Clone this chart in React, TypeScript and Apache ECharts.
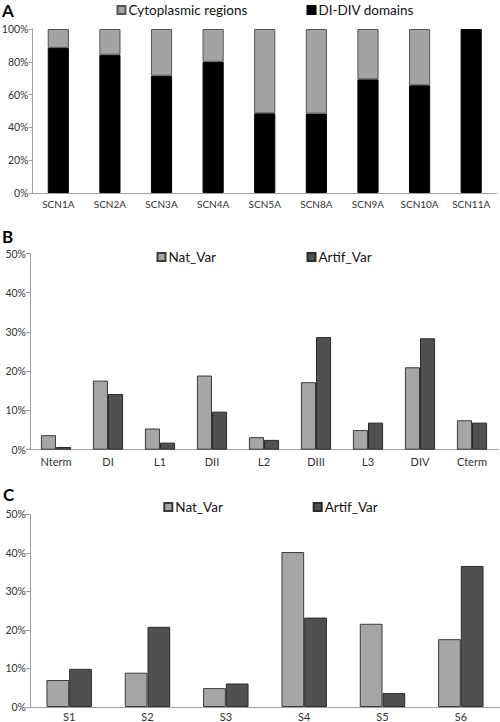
import React, { useEffect, useRef } from "react";
import * as echarts from "echarts";

const genes = ["SCN1A", "SCN2A", "SCN3A", "SCN4A", "SCN5A", "SCN8A", "SCN9A", "SCN10A", "SCN11A"];
const domainsPct = [88.5, 84.3, 71.5, 80, 48.6, 48.4, 69.3, 65.7, 100];
const cytoPct = [11.5, 15.7, 28.5, 20, 51.4, 51.6, 30.7, 34.3, 0];

const regions = ["Nterm", "DI", "L1", "DII", "L2", "DIII", "L3", "DIV", "Cterm"];
const regionNat = [3.7, 17.6, 5.4, 18.9, 3.2, 17.2, 5.0, 21.0, 7.5];
const regionArtif = [0.7, 14.2, 1.8, 9.7, 2.5, 28.7, 6.9, 28.4, 6.9];

const segments = ["S1", "S2", "S3", "S4", "S5", "S6"];
const segNat = [7.0, 8.9, 4.9, 40.2, 21.6, 17.6];
const segArtif = [9.9, 20.8, 6.1, 23.2, 3.6, 36.6];

const FONT = "Lato, 'Noto Sans', sans-serif";
const AXIS_COLOR = "#a0a0a0";
const LABEL_COLOR = "#333";

const NAT_STYLE = { color: "#a6a6a6", borderColor: "#3a3a3a", borderWidth: 1 };
const ARTIF_STYLE = { color: "#505050", borderColor: "#2a2a2a", borderWidth: 1 };

function yAxis(gridIndex: number, max: number, interval: number) {
  return {
    type: "value",
    gridIndex,
    min: 0,
    max,
    interval,
    axisLine: { show: true, lineStyle: { color: AXIS_COLOR, width: 1 } },
    axisTick: { show: true, length: 4, lineStyle: { color: AXIS_COLOR } },
    splitLine: { show: false },
    axisLabel: {
      formatter: "{value}%",
      color: LABEL_COLOR,
      fontFamily: FONT,
      fontSize: 10.5,
      margin: 4,
    },
  };
}

function xAxis(gridIndex: number, data: string[], fontSize: number, margin: number) {
  return {
    type: "category",
    gridIndex,
    data,
    axisLine: { show: true, lineStyle: { color: AXIS_COLOR, width: 1 } },
    axisTick: { show: false },
    axisLabel: {
      color: LABEL_COLOR,
      fontFamily: FONT,
      fontSize,
      margin,
      interval: 0,
    },
  };
}

function legend(name: string, left: number, top: number) {
  return {
    data: [name],
    left,
    top,
    padding: 0,
    itemWidth: 8,
    itemHeight: 8,
    itemGap: 0,
    icon: "rect",
    selectedMode: false,
    textStyle: { fontFamily: FONT, fontSize: 13.5, color: "#111", padding: [0, 0, 0, -2] },
  };
}

export default function App() {
  const ref = useRef<HTMLDivElement>(null);

  useEffect(() => {
    if (!ref.current) return;
    const chart = echarts.init(ref.current, undefined, { renderer: "svg" });
    const option: any = {
      animation: false,
      backgroundColor: "#ffffff",
      textStyle: { fontFamily: FONT },
      grid: [
        { left: 32.5, right: 3, top: 29, height: 164, outerBoundsMode: "none" },
        { left: 30, right: 2, top: 253.5, height: 196.2, outerBoundsMode: "none" },
        { left: 30, right: 0, top: 514.3, height: 192.7, outerBoundsMode: "none" },
      ],
      legend: [
        legend("Cytoplasmic regions", 116.5, 3),
        legend("DI-DIV domains", 306.5, 3),
        legend("Nat_Var", 156.5, 250),
        legend("Artif_Var", 306.5, 250),
        legend("Nat_Var", 163.3, 500),
        legend("Artif_Var", 312.7, 500),
      ],
      xAxis: [xAxis(0, genes, 10, 6), xAxis(1, regions, 11, 6), xAxis(2, segments, 11, 4)],
      yAxis: [yAxis(0, 100, 20), yAxis(1, 50, 10), yAxis(2, 50, 10)],
      graphic: [
        { type: "text", left: 2, top: 2, style: { text: "A", font: `bold 17px ${FONT}`, fill: "#000" } },
        { type: "text", left: 2, top: 228, style: { text: "B", font: `bold 17px ${FONT}`, fill: "#000" } },
        { type: "text", left: 3, top: 486, style: { text: "C", font: `bold 17px ${FONT}`, fill: "#000" } },
      ],
      series: [
        {
          name: "DI-DIV domains",
          type: "bar",
          stack: "a",
          xAxisIndex: 0,
          yAxisIndex: 0,
          barWidth: "41%",
          data: domainsPct,
          itemStyle: { color: "#000000", borderColor: "#000000", borderWidth: 1 },
        },
        {
          name: "Cytoplasmic regions",
          type: "bar",
          stack: "a",
          xAxisIndex: 0,
          yAxisIndex: 0,
          barWidth: "41%",
          data: cytoPct.map((v) => (v === 0 ? { value: v, itemStyle: { borderWidth: 0 } } : v)),
          itemStyle: { color: "#a3a3a3", borderColor: "#555555", borderWidth: 1 },
        },
        {
          name: "Nat_Var",
          type: "bar",
          xAxisIndex: 1,
          yAxisIndex: 1,
          barWidth: "29%",
          barGap: "0%",
          data: regionNat,
          itemStyle: NAT_STYLE,
        },
        {
          name: "Artif_Var",
          type: "bar",
          xAxisIndex: 1,
          yAxisIndex: 1,
          barWidth: "29%",
          barGap: "0%",
          data: regionArtif,
          itemStyle: ARTIF_STYLE,
        },
        {
          name: "Nat_Var",
          type: "bar",
          xAxisIndex: 2,
          yAxisIndex: 2,
          barWidth: "29%",
          barGap: "0%",
          data: segNat,
          itemStyle: NAT_STYLE,
        },
        {
          name: "Artif_Var",
          type: "bar",
          xAxisIndex: 2,
          yAxisIndex: 2,
          barWidth: "29%",
          barGap: "0%",
          data: segArtif,
          itemStyle: ARTIF_STYLE,
        },
      ],
    };
    chart.setOption(option);
    return () => chart.dispose();
  }, []);

  return (
    <div
      ref={ref}
      style={{ position: "fixed", left: 0, top: 0, width: 500, height: 722, background: "#fff" }}
    />
  );
}
